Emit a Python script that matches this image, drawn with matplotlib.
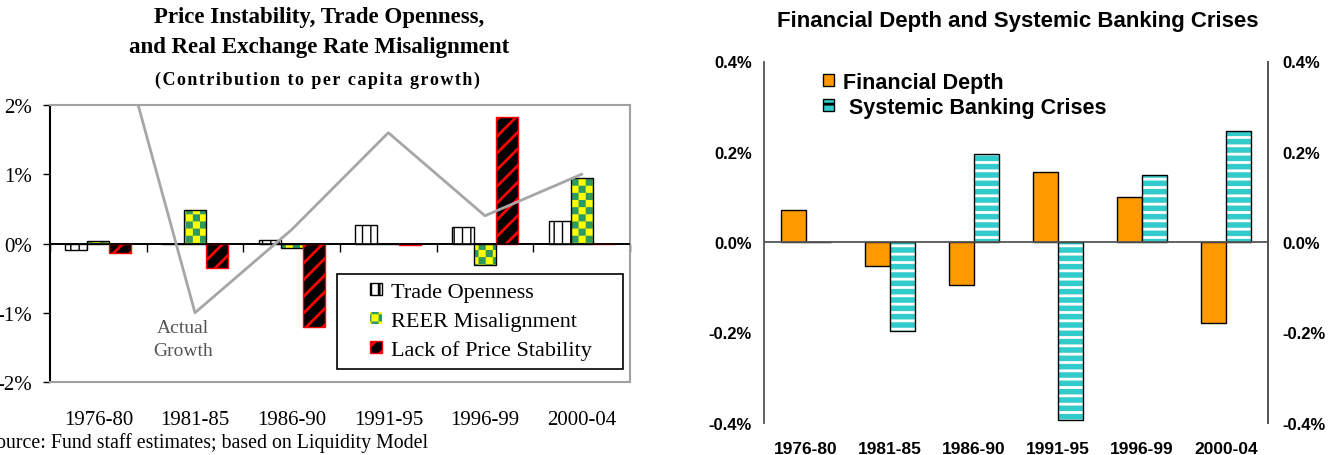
import numpy as np
import matplotlib
matplotlib.use('Agg')
import matplotlib.pyplot as plt
import matplotlib.hatch as mhatch
from matplotlib.path import Path
from matplotlib.patches import Rectangle
from matplotlib.legend_handler import HandlerPatch
from matplotlib.ticker import FuncFormatter

periods = ['1976-80', '1981-85', '1986-90', '1991-95', '1996-99', '2000-04']

# left panel: contribution to per capita growth, in percent
trade_openness = [-0.09, 0.0, 0.05, 0.26, 0.24, 0.33]
reer_misalignment = [0.04, 0.49, -0.07, -0.01, -0.31, 0.94]
price_instability = [-0.14, -0.35, -1.20, -0.02, 1.83, 0.0]
actual_growth = [4.1, -1.0, 0.2, 1.6, 0.4, 1.0]
left_labels = ['Trade Openness', 'REER Misalignment', 'Lack of Price Stability']

# right panel
financial_depth = [0.07, -0.054, -0.096, 0.156, 0.099, -0.18]
banking_crises = [0.0, -0.197, 0.196, -0.395, 0.148, 0.246]
right_labels = ['Financial Depth', ' Systemic Banking Crises']

SERIF = ['Liberation Serif', 'DejaVu Serif']
SANS = ['Liberation Sans', 'DejaVu Sans']
HATCH_LW = 2.0
plt.rcParams['hatch.linewidth'] = HATCH_LW


class Checker(mhatch.HatchPatternBase):
    # '*' becomes an Excel like checkerboard fill
    def __init__(self, hatch, density):
        self.n = hatch.count('*') * 7
        self.cells = [(i, j) for i in range(self.n) for j in range(self.n)
                      if (i + j) % 2 == 0]
        self.num_vertices = 5 * len(self.cells)

    def set_vertices_and_codes(self, vertices, codes):
        s = 1.0 / self.n
        d = HATCH_LW / 144.0
        k = 0
        for i, j in self.cells:
            x0, y0 = i * s + d, j * s + d
            x1, y1 = (i + 1) * s - d, (j + 1) * s - d
            vertices[k:k + 5] = [(x0, y0), (x1, y0), (x1, y1), (x0, y1), (x0, y0)]
            codes[k:k + 5] = [Path.MOVETO, Path.LINETO, Path.LINETO,
                              Path.LINETO, Path.CLOSEPOLY]
            k += 5


mhatch._hatch_types = [h for h in mhatch._hatch_types
                       if h.__name__ != 'Stars'] + [Checker]


def small_square(size_pt):
    def make(legend, orig_handle, xdescent, ydescent, width, height, fontsize):
        return Rectangle((-xdescent + width - size_pt,
                          -ydescent + (height - size_pt) / 2),
                         size_pt, size_pt)
    return make


def hatch_lw(bars, lw):
    for b in bars:
        if hasattr(b, 'set_hatch_linewidth'):
            b.set_hatch_linewidth(lw)


fig = plt.figure(figsize=(13.38, 4.56), dpi=100)

# ---------------- left panel ----------------
ax = fig.add_axes([50 / 1338, 1 - 383 / 456, 580 / 1338, 277 / 456])
x = np.arange(len(periods))
w = 0.227

to_bars = ax.bar(x - w, trade_openness, w, facecolor='white',
                 edgecolor='black', hatch='||', lw=1, zorder=2)
hatch_lw(to_bars, 1.0)
reer_bars = ax.bar(x, reer_misalignment, w, facecolor='#ffff00',
                   edgecolor='#2e9a60', hatch='**', lw=0, zorder=2)
ax.bar(x, reer_misalignment, w, fill=False, edgecolor='black', lw=1, zorder=2)
price_bars = ax.bar(x + w, price_instability, w, facecolor='black',
                    edgecolor='red', hatch='//', lw=1, zorder=2)
ax.axhline(0, color='black', lw=1.2, zorder=3)

ax.plot(x, actual_growth, color='#a6a6a6', lw=2, zorder=4)
ax.text(0.875, -1.38, 'Actual\nGrowth', ha='center', va='center',
        color='#555555', fontsize=14, family=SERIF, linespacing=1.45)

ax.set_xlim(-0.5, 5.5)
ax.set_ylim(-2, 2)
ax.set_yticks([-2, -1, 0, 1, 2])
ax.yaxis.set_major_formatter(FuncFormatter(lambda v, p: f'{v:.0f}%'))
ax.tick_params(axis='y', direction='out', length=5, width=1, pad=8,
               labelsize=15, color='black')
ax.set_xticks(x, periods)
ax.tick_params(axis='x', length=0, pad=20, labelsize=15)
for lab in ax.get_xticklabels() + ax.get_yticklabels():
    lab.set_family(SERIF)
for side in ['top', 'right', 'bottom']:
    ax.spines[side].set_color('#a0a0a0')
    ax.spines[side].set_linewidth(1.5)
ax.spines['left'].set_linewidth(1.5)

sec = ax.secondary_xaxis(0.5)
sec.set_alignment('bottom')
sec.set_xticks(np.arange(7) - 0.5, [''] * 7)
sec.tick_params(direction='out', length=6, width=1, color='black')
sec.spines['bottom'].set_color('black')
sec.spines['bottom'].set_linewidth(1.2)

leg = ax.legend([to_bars[0], reer_bars[0], price_bars[0]], left_labels,
                loc='lower left', bbox_to_anchor=(0.4948, 0.047, 0.493, 0.35),
                mode='expand', borderaxespad=0, fancybox=False, framealpha=1,
                edgecolor='black', prop={'family': SERIF, 'size': 16},
                handlelength=1.62, handleheight=0.55, handletextpad=0.4,
                labelspacing=0.42, borderpad=0.4,
                handler_map={Rectangle: HandlerPatch(patch_func=small_square(8.6))})
leg.get_frame().set_linewidth(1.2)

fig.text(319 / 1338, 1 - 18 / 456, 'Price Instability, Trade Openness,',
         ha='center', va='center', fontsize=16.5, fontweight='bold', family=SERIF)
fig.text(319 / 1338, 1 - 47 / 456, 'and Real Exchange Rate Misalignment',
         ha='center', va='center', fontsize=16.5, fontweight='bold', family=SERIF)
fig.text(317 / 1338, 1 - 80 / 456,
         '\u200a'.join('(Contribution to per capita growth)'),
         ha='center', va='center', fontsize=13, fontweight='bold', family=SERIF)
fig.text(-15 / 1338, 1 - 443 / 456,
         'Source: Fund staff estimates; based on Liquidity Model',
         ha='left', va='center', fontsize=14.3, family=SERIF)

# ---------------- right panel ----------------
ax2 = fig.add_axes([764 / 1338, 1 - 423.5 / 456, 504 / 1338, 361 / 456])
w2 = 0.3
fd_bars = ax2.bar(x - w2 / 2, financial_depth, w2, facecolor='#ff9900',
                  edgecolor='black', lw=1, zorder=2)
bc_bars = ax2.bar(x + w2 / 2, banking_crises, w2, facecolor='#33cccc',
                  edgecolor='white', hatch='--', lw=0, zorder=2)
ax2.bar(x + w2 / 2, banking_crises, w2, fill=False, edgecolor='black',
        lw=1, zorder=2)
ax2.axhline(0, color='#555555', lw=1.3, zorder=3)

ax2.set_xlim(-0.5, 5.5)
ax2.set_ylim(-0.4, 0.4)
ticks2 = [-0.4, -0.2, 0.0, 0.2, 0.4]
fmt2 = FuncFormatter(lambda v, p: f'{v:.1f}%')
ax2.set_yticks(ticks2)
ax2.yaxis.set_major_formatter(fmt2)
ax2.tick_params(axis='y', length=0, pad=8.6, labelsize=12)
ax2.set_xticks(x, periods)
ax2.tick_params(axis='x', length=0, pad=13, labelsize=12.5)
for side in ['top', 'bottom']:
    ax2.spines[side].set_visible(False)
for side in ['left', 'right']:
    ax2.spines[side].set_color('#555555')
    ax2.spines[side].set_linewidth(1.3)

ax3 = ax2.twinx()
ax3.set_ylim(-0.4, 0.4)
ax3.set_yticks(ticks2)
ax3.yaxis.set_major_formatter(fmt2)
ax3.tick_params(axis='y', length=0, pad=10, labelsize=12)
for side in ['top', 'bottom', 'left']:
    ax3.spines[side].set_visible(False)
ax3.spines['right'].set_color('#555555')
ax3.spines['right'].set_linewidth(1.3)

for lab in (ax2.get_xticklabels() + ax2.get_yticklabels()
            + ax3.get_yticklabels()):
    lab.set_family(SANS)
    lab.set_fontweight('bold')

# legend handle for the striped series needs its black outline back
bc_handle = Rectangle((0, 0), 1, 1, facecolor='#33cccc', edgecolor='black',
                      hatch='--', lw=1)
leg2 = ax3.legend([fd_bars[0], bc_handle], right_labels, loc='upper left',
                  bbox_to_anchor=(0.077, 1.025), frameon=False,
                  prop={'family': SANS, 'size': 15.5, 'weight': 'bold'},
                  handlelength=0.56, handleheight=0.56, handletextpad=0.42,
                  labelspacing=0.18, borderpad=0.4,
                  handler_map={Rectangle: HandlerPatch(patch_func=small_square(8.4))})

fig.text(1018 / 1338, 1 - 21 / 456, 'Financial Depth and Systemic Banking Crises',
         ha='center', va='center', fontsize=16, fontweight='bold', family=SANS)

fig.savefig('out.png', dpi=100)
